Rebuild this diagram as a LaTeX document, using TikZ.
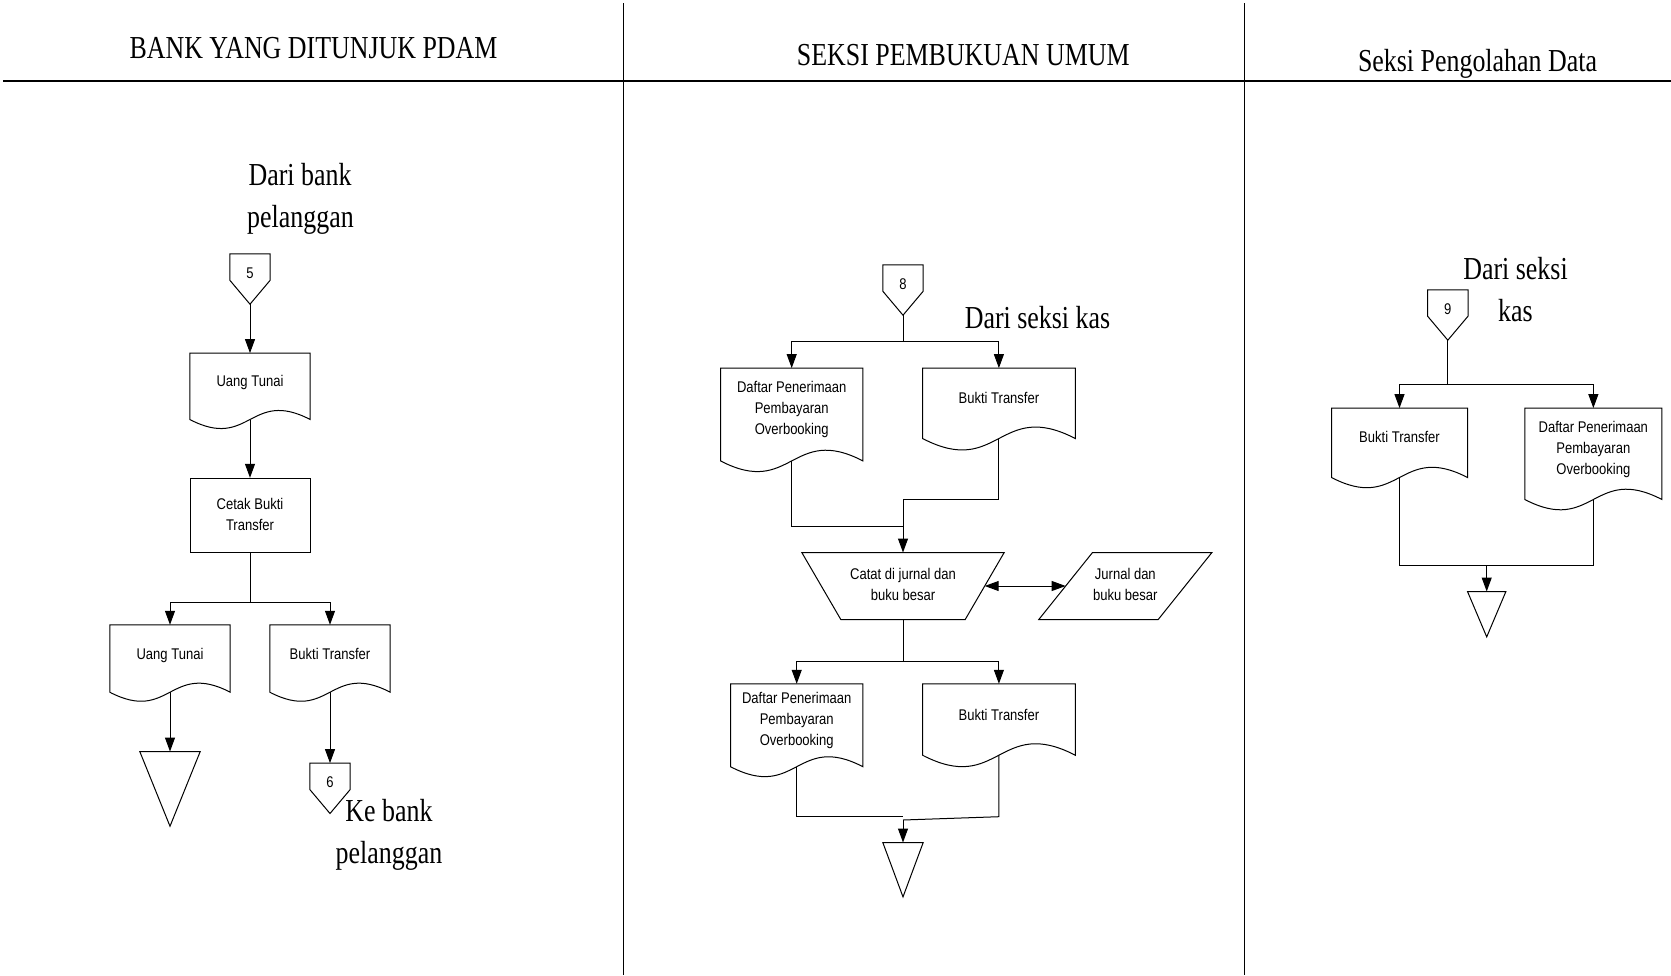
\documentclass[tikz,border=0pt]{standalone}
\usepackage{fontspec}
\setmainfont{Liberation Serif}
\newfontfamily\titlefont[FakeStretch=0.81]{Liberation Serif}
\newfontfamily\boxfont[FakeStretch=0.84]{Liberation Sans}
\usetikzlibrary{arrows.meta,calc}

% centred label lines, pushed up by half of the extra depth #1
\newcommand\lifted[2]{\raisebox{0pt}[\height][\dimexpr\depth+#1pt\relax]{\begin{tabular}{@{}c@{}}#2\end{tabular}}}

% outlines drawn around the (invisible) named nodes
\newcommand\docoutline[1]{%
  \draw[shape line] let \p1=(#1.south west), \p2=(#1.north east), \n1={0.26*(\x2-\x1)} in
    (\p1) -- (\x1,\y2) -- (\p2) -- (\x2,\y1)
    .. controls ({(\x1+\x2)/2},{\y1+\n1}) and ({(\x1+\x2)/2},{\y1-\n1}) .. (\p1) -- cycle;}
\newcommand\offpageoutline[1]{%
  \draw[shape line] (#1.north west) -- (#1.north east) -- ([yshift=24pt]#1.south east)
    -- (#1.south) -- ([yshift=24pt]#1.south west) -- cycle;}
\newcommand\storeoutline[1]{%
  \draw[shape line] (#1.north west) -- (#1.north east) -- (#1.south) -- cycle;}

\begin{document}
\begin{tikzpicture}[x=1pt,y=-1pt,
  lane line/.style={line width=1pt},
  head line/.style={line width=1.6pt},
  shape line/.style={line width=1pt},
  link/.style={line width=1pt},
  flow/.style={line width=1pt,-{Triangle[length=14pt,width=10pt]}},
  twoway/.style={line width=1pt,{Triangle[length=14pt,width=10pt]}-{Triangle[length=14pt,width=10pt]}},
  title text/.style={font=\titlefont\fontsize{32}{40}\selectfont,inner sep=0pt,anchor=base},
  box text/.style={font=\boxfont\fontsize{15.5}{21}\selectfont,inner sep=0pt},
  docnode/.style={box text},
  procnode/.style={box text,draw,line width=1pt},
  connector/.style={box text,minimum width=40,minimum height=50},
  storage/.style={inner sep=0pt},
]
\useasboundingbox (0,0) rectangle (1671,975);

% swimlanes
\draw[head line] (3,81) -- (1671,81);
\draw[lane line] (623.5,3) -- (623.5,975);
\draw[lane line] (1244,3) -- (1244,975);

\node[title text] (h1) at (313.5,58.5) {BANK YANG DITUNJUK PDAM};
\node[title text] (h2) at (963.3,65.7) {SEKSI PEMBUKUAN UMUM};
\node[title text] (h3) at (1477.5,71.7) {Seksi Pengolahan Data};

% ---------------- lane 1: bank
\node[title text] (src5a) at (300,185.5) {Dari bank};
\node[title text] (src5b) at (300.5,227) {pelanggan};
\node[connector] (c5) at (250,279) {\lifted{10}{5}};
\offpageoutline{c5}
\node[docnode,minimum width=120,minimum height=66] (ut1) at (250,386.3) {\lifted{8}{Uang Tunai}};
\docoutline{ut1}
\node[procnode,minimum width=120,minimum height=74.4] (cetak) at (250,515.5) {\lifted{0}{Cetak Bukti\\Transfer}};
\node[docnode,minimum width=120,minimum height=67] (ut2) at (170,658.5) {\lifted{7}{Uang Tunai}};
\docoutline{ut2}
\node[docnode,minimum width=120,minimum height=67] (bt1) at (330,658.5) {\lifted{7}{Bukti Transfer}};
\docoutline{bt1}
\node[storage,minimum width=60,minimum height=74.3] (t1) at (170,788.9) {};
\storeoutline{t1}
\node[connector] (c6) at (330,788.3) {\lifted{10}{6}};
\offpageoutline{c6}
\node[title text] (dst6a) at (389,821.7) {Ke bank};
\node[title text] (dst6b) at (389,863) {pelanggan};

\coordinate (b1) at (250,602);
\draw[flow] (c5.south) -- (ut1.north);
\draw[flow] (ut1.south) -- (cetak.north);
\draw[link] (cetak.south) -- (b1);
\draw[flow] (b1) -| (ut2.north);
\draw[flow] (b1) -| (bt1.north);
\draw[flow] (ut2.south) -- (t1.north);
\draw[flow] (bt1.south) -- (c6.north);

% ---------------- lane 2: general ledger
\node[connector] (c8) at (903,290) {\lifted{10}{8}};
\offpageoutline{c8}
\node[title text] (src8) at (1037.5,328) {Dari seksi kas};
\node[docnode,minimum width=142,minimum height=92.4] (daf1) at (791.7,414.5) {\lifted{10}{Daftar Penerimaan\\Pembayaran\\Overbooking}};
\docoutline{daf1}
\node[docnode,minimum width=152.3,minimum height=70] (bt2) at (998.9,403.3) {\lifted{8}{Bukti Transfer}};
\docoutline{bt2}
\node[storage,box text,minimum width=202,minimum height=66.6] (rec) at (903,586) {\lifted{0}{Catat di jurnal dan\\buku besar}};
\draw[shape line] (rec.north west) -- (rec.north east) -- ([xshift=-39pt]rec.south east) -- ([xshift=39pt]rec.south west) -- cycle;
\node[storage,box text,minimum width=172.7,minimum height=66.6] (led) at (1125.35,586) {\lifted{0}{Jurnal dan\\buku besar}};
\draw[shape line] (led.north east) -- ([xshift=53.7pt]led.north west) -- (led.south west) -- ([xshift=-53.7pt]led.south east) -- cycle;
\node[docnode,minimum width=132,minimum height=82.5] (daf2) at (796.7,725.25) {\lifted{9}{Daftar Penerimaan\\Pembayaran\\Overbooking}};
\docoutline{daf2}
\node[docnode,minimum width=152.3,minimum height=71] (bt3) at (998.9,719.5) {\lifted{7}{Bukti Transfer}};
\docoutline{bt3}
\node[storage,minimum width=40,minimum height=54] (t2) at (903,869.7) {};
\storeoutline{t2}

\coordinate (b2) at (903,341.7);
\coordinate (m2) at (903,499.3);
\coordinate (m3) at (903,526);
\coordinate (recR) at ($(rec.east)+(-19.5,0)$);
\coordinate (ledL) at ($(led.west)+(26.85,0)$);
\coordinate (b3) at (903,661.7);
\coordinate (j2a) at (903,816.7);
\coordinate (j2) at (903,820);
\draw[link] (c8.south) -- (b2);
\draw[flow] (b2) -| (daf1.north);
\draw[flow] (b2) -| (bt2.north);
\draw[link] (bt2.south) |- (m2);
\draw[link] (daf1.south) |- (m3);
\draw[flow] (m2) -- (rec.north);
\draw[twoway] (recR) -- (ledL);
\draw[link] (rec.south) -- (b3);
\draw[flow] (b3) -| (daf2.north);
\draw[flow] (b3) -| (bt3.north);
\draw[link] (daf2.south) |- (j2a);
\draw[link] (bt3.south) -- (bt3.south |- j2a) -- (j2);
\draw[flow] (j2) -- (t2.north);

% ---------------- lane 3: data processing
\node[title text] (src9a) at (1515.5,279.3) {Dari seksi};
\node[title text] (src9b) at (1515.5,321) {kas};
\node[connector] (c9) at (1447.8,315) {\lifted{10}{9}};
\offpageoutline{c9}
\node[docnode,minimum width=135.6,minimum height=69] (bt4) at (1399.5,442.8) {\lifted{9}{Bukti Transfer}};
\docoutline{bt4}
\node[docnode,minimum width=136.7,minimum height=91] (daf3) at (1593.35,453.8) {\lifted{10}{Daftar Penerimaan\\Pembayaran\\Overbooking}};
\docoutline{daf3}
\node[storage,minimum width=38,minimum height=45] (t3) at (1486.7,614.2) {};
\storeoutline{t3}

\coordinate (b4) at (1447.8,384);
\coordinate (j3) at (1486.7,565);
\draw[link] (c9.south) -- (b4);
\draw[flow] (b4) -| (bt4.north);
\draw[flow] (b4) -| (daf3.north);
\draw[link] (bt4.south) |- (j3);
\draw[link] (daf3.south) |- (j3);
\draw[flow] (j3) -- (t3.north);
\end{tikzpicture}
\end{document}
